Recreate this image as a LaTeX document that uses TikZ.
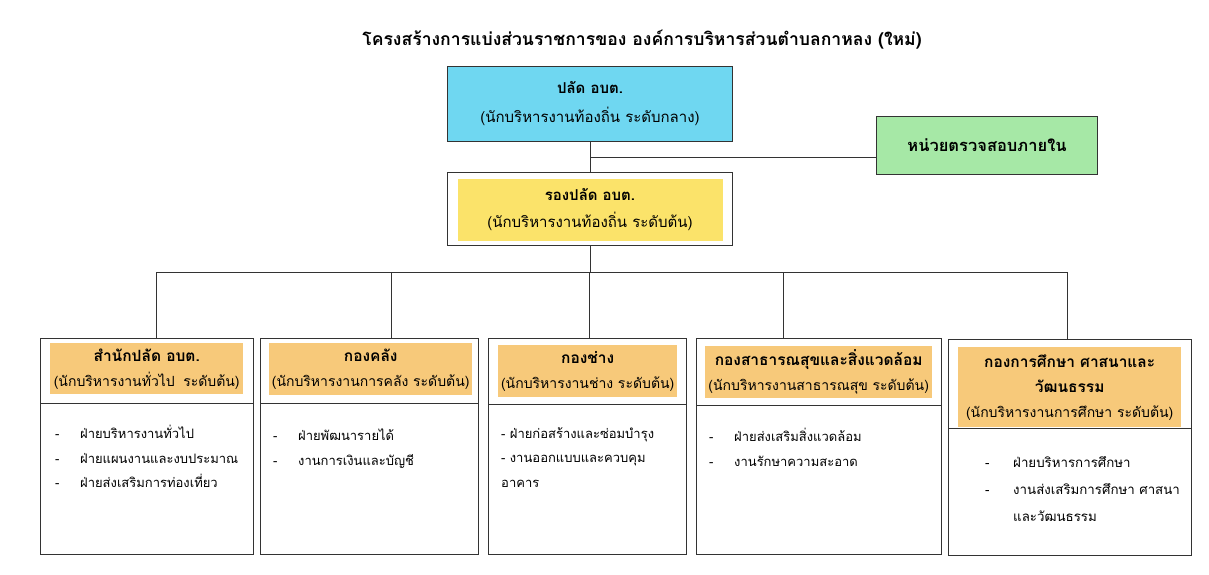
\documentclass[tikz,border=0pt]{standalone}
\usepackage{fontspec}
\setmainfont[Script=Thai]{Loma}
\usepackage{xcolor}
\usepackage{tikz}
\usetikzlibrary{positioning}

\definecolor{cyanbox}{HTML}{6FD7F1}
\definecolor{greenbox}{HTML}{A6E8A6}
\definecolor{yellowbox}{HTML}{FBE36A}
\definecolor{orangebox}{HTML}{F7C97A}
\definecolor{edge}{HTML}{333333}

\tikzset{
  unitbox/.style={draw=edge, line width=1pt, inner sep=0pt, anchor=north west},
  headfill/.style={fill=orangebox, inner sep=0pt, anchor=north west, align=center,
    font=\fontsize{14}{25}\selectfont},
  itemlist/.style={anchor=north west, align=left, inner sep=0pt,
    font=\fontsize{13}{24.5}\selectfont},
  link/.style={draw=edge, line width=1pt}
}
\newcommand{\dashitem}[2][25pt]{\makebox[#1][l]{-}#2}
\newcommand{\unitname}[1]{{\fontsize{15.5}{25}\selectfont\bfseries #1}}

\begin{document}
\begin{tikzpicture}[x=1pt, y=-1pt]
\useasboundingbox (0,0) rectangle (1209,574);

\node[font=\bfseries\fontsize{17.6}{22}\selectfont] (title) at (642,40)
  {โครงสร้างการแบ่งส่วนราชการของ องค์การบริหารส่วนตำบลกาหลง (ใหม่)};

% top level
\node[unitbox, fill=cyanbox, minimum width=285pt, minimum height=75pt, align=center,
  font=\fontsize{15}{29}\selectfont] (palad) at (447,66)
  {\textbf{ปลัด อบต.}\\(นักบริหารงานท้องถิ่น ระดับกลาง)};
\node[unitbox, fill=greenbox, minimum width=221pt, minimum height=58pt,
  font=\bfseries\fontsize{16.5}{18}\selectfont] (audit) at (876,116) {หน่วยตรวจสอบภายใน};
\node[unitbox, minimum width=285pt, minimum height=73pt] (rong) at (447,172) {};
\node[unitbox, draw=none, fill=yellowbox, minimum width=265pt, minimum height=62pt,
  align=center, font=\fontsize{15}{27}\selectfont] (rongt) at (457,178)
  {\textbf{รองปลัด อบต.}\\(นักบริหารงานท้องถิ่น ระดับต้น)};

\draw[link] (palad.south) -- (rong.north);
\coordinate (j1) at (palad.south |- 0,157);
\draw[link] (j1) -- (j1 -| audit.west);

% divisions
\node[unitbox, minimum width=213pt, minimum height=216pt] (d1) at (40,338) {};
\node[unitbox, minimum width=218pt, minimum height=216pt] (d2) at (260,338) {};
\node[unitbox, minimum width=198pt, minimum height=216pt] (d3) at (488,338) {};
\node[unitbox, minimum width=245pt, minimum height=216pt] (d4) at (696,338) {};
\node[unitbox, minimum width=243pt, minimum height=216pt] (d5) at (948,339) {};

\node[headfill, minimum width=193pt, minimum height=51pt] (h1) at (50,343)
  {\unitname{สำนักปลัด อบต.}\\(นักบริหารงานทั่วไป\hspace{0.6em}ระดับต้น)};
\node[headfill, minimum width=203pt, minimum height=52pt] (h2) at (269,343)
  {\unitname{กองคลัง}\\(นักบริหารงานการคลัง ระดับต้น)};
\node[headfill, minimum width=179pt, minimum height=52pt] (h3) at (498,345)
  {\unitname{กองช่าง}\\(นักบริหารงานช่าง ระดับต้น)};
\node[headfill, minimum width=227pt, minimum height=52pt] (h4) at (705,346)
  {\unitname{กองสาธารณสุขและสิ่งแวดล้อม}\\(นักบริหารงานสาธารณสุข ระดับต้น)};
\node[headfill, minimum width=223pt, minimum height=80pt] (h5) at (958,347)
  {\unitname{กองการศึกษา ศาสนาและ}\\\unitname{วัฒนธรรม}\\(นักบริหารงานการศึกษา ระดับต้น)};

\foreach \n/\y in {1/403,2/403,3/404,4/405,5/428} {
\coordinate (s\n) at (0,\y);
\draw[link] (d\n.west |- s\n) -- (d\n.east |- s\n); }

\node[itemlist] (i1) at (55,425)
  {\dashitem{ฝ่ายบริหารงานทั่วไป}\\\dashitem{ฝ่ายแผนงานและงบประมาณ}\\\dashitem{ฝ่ายส่งเสริมการท่องเที่ยว}};
\node[itemlist] (i2) at (273,429)
  {\dashitem{ฝ่ายพัฒนารายได้}\\\dashitem{งานการเงินและบัญชี}};
\node[itemlist] (i3) at (501,427)
  {- ฝ่ายก่อสร้างและซ่อมบำรุง\\- งานออกแบบและควบคุม\\อาคาร};
\node[itemlist] (i4) at (709,428)
  {\dashitem{ฝ่ายส่งเสริมสิ่งแวดล้อม}\\\dashitem{งานรักษาความสะอาด}};
\node[itemlist, font=\fontsize{13.3}{27}\selectfont] (i5) at (985,456)
  {\dashitem[28pt]{ฝ่ายบริหารการศึกษา}\\\dashitem[28pt]{งานส่งเสริมการศึกษา ศาสนา}\\\hspace*{28pt}และวัฒนธรรม};

% bus
\coordinate (bus) at (rong.south |- 0,272);
\draw[link] (rong.south) -- (bus);
\foreach \n/\x in {1/156,2/391,3/589,4/783,5/1067} {
\coordinate (drop\n) at (\x,272);
\draw[link] (drop\n) -- (drop\n |- d\n.north); }
\draw[link] (drop1) -- (drop5);
\end{tikzpicture}
\end{document}
